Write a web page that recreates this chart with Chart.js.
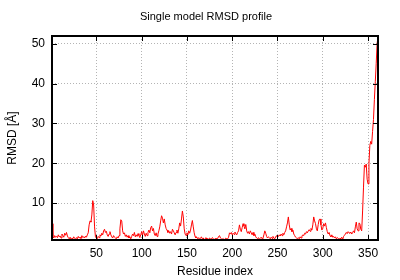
<!DOCTYPE html>
<html>
<head>
<meta charset="utf-8">
<script src="https://cdn.jsdelivr.net/npm/chart.js@4/dist/chart.umd.min.js"></script>
<style>
  html, body { margin: 0; padding: 0; background: #fff; }
  #wrap { width: 400px; height: 280px; }
</style>
</head>
<body>
<div id="wrap"><canvas id="myChart"></canvas></div>
<script>
// RMSD per residue (residues 1..361)
const rmsd = [
  4.8, 1.5, 1.2, 1.8, 1.4, 1.6, 1.3, 2.0, 1.5, 1.7,
  1.2, 2.2, 1.8, 1.4, 2.4, 1.9, 2.6, 1.7, 1.3, 1.0,
  1.4, 0.9, 1.2, 1.0, 1.5, 1.1, 0.9, 1.3, 1.0, 1.6,
  1.2, 1.4, 1.1, 1.8, 1.3, 1.5, 1.2, 1.7, 1.4, 2.0,
  2.5, 4.5, 5.5, 5.2, 7.0, 10.6, 9.5, 4.0, 1.5, 1.2,
  1.0, 1.6, 1.3, 2.0, 1.7, 2.4, 2.0, 3.0, 3.4, 2.6,
  2.9, 2.0, 1.6, 2.2, 2.8, 2.0, 1.5, 1.2, 1.8, 1.4,
  1.2, 1.0, 1.5, 1.2, 1.8, 3.5, 5.8, 5.5, 3.0, 2.2,
  2.5, 1.6, 2.0, 1.4, 1.8, 1.2, 1.5, 1.0, 1.6, 2.2,
  1.8, 2.6, 1.5, 2.0, 1.6, 2.3, 1.8, 1.3, 2.0, 2.8,
  1.9, 3.0, 2.2, 1.6, 2.4, 1.8, 2.6, 3.2, 2.5, 3.8,
  4.2, 3.0, 3.6, 2.2, 1.8, 2.5, 1.6, 2.2, 3.0, 4.0,
  5.5, 6.8, 6.2, 5.0, 6.0, 4.5, 3.6, 3.2, 2.6, 3.0,
  2.4, 2.8, 2.2, 3.4, 3.0, 2.5, 2.0, 2.6, 3.2, 2.4,
  3.5, 5.0, 4.2, 6.0, 8.0, 6.5, 3.5, 2.2, 1.8, 2.5,
  2.0, 3.0, 2.4, 3.2, 4.5, 5.6, 4.0, 2.5, 1.6, 1.2,
  1.4, 1.0, 1.3, 0.9, 1.1, 1.5, 1.0, 1.2, 0.8, 1.0,
  1.3, 0.9, 1.1, 0.8, 1.2, 1.0, 0.9, 1.3, 1.1, 0.8,
  1.0, 1.2, 0.9, 1.1, 1.6, 1.8, 1.2, 1.0, 0.9, 1.1,
  0.8, 1.0, 1.2, 0.9, 1.0, 1.4, 2.5, 2.2, 2.6, 2.0,
  2.4, 2.1, 2.7, 2.3, 2.0, 2.6, 3.0, 4.5, 3.4, 2.8,
  3.8, 4.8, 4.2, 3.5, 4.6, 3.0, 2.4, 2.8, 2.2, 3.0,
  2.5, 2.0, 2.6, 1.8, 2.2, 1.5, 1.2, 1.0, 1.3, 0.9,
  1.1, 1.4, 1.0, 1.2, 2.0, 3.0, 2.4, 1.6, 1.2, 1.5,
  1.3, 1.0, 1.4, 1.1, 1.6, 1.2, 1.0, 1.5, 1.8, 1.3,
  1.6, 2.0, 1.7, 2.2, 1.8, 2.4, 2.0, 2.6, 3.0, 4.0,
  5.0, 6.5, 4.5, 3.2, 3.6, 2.8, 3.2, 2.2, 1.8, 1.4,
  1.2, 1.0, 1.3, 1.0, 1.5, 1.2, 1.7, 2.0, 1.8, 2.4,
  2.2, 2.8, 2.5, 3.0, 3.3, 2.9, 3.6, 3.2, 4.5, 6.5,
  5.5, 4.8, 3.5, 3.0, 4.6, 5.8, 6.0, 4.5, 3.2, 3.6,
  4.8, 4.2, 5.0, 3.8, 2.8, 2.2, 2.6, 1.8, 1.5, 2.0,
  1.4, 1.6, 1.2, 1.5, 1.0, 1.3, 1.1, 0.9, 1.2, 1.0,
  1.4, 0.8, 1.6, 1.9, 2.2, 2.6, 2.3, 2.8, 2.5, 2.4,
  2.7, 2.2, 2.6, 3.0, 2.5, 4.0, 5.2, 3.5, 3.0, 5.0,
  4.8, 3.4, 3.0, 8.0, 14.0, 19.5, 19.0, 19.8, 16.0, 14.8,
  20.0, 24.5, 25.5, 24.8, 28.0, 31.0, 36.0, 40.5, 45.0, 50.0, 52.0
];
const residues = rmsd.map((v, i) => i + 1);
const xTicks = [50, 100, 150, 200, 250, 300, 350];
const yTicks = [10, 20, 30, 40, 50];

Chart.defaults.font.family = "'Liberation Sans', Arial, sans-serif";
Chart.defaults.font.size = 12;
Chart.defaults.color = '#000';

// gnuplot style frame with inward ticks on all four sides
const frame = {
  id: 'frame',
  afterDraw(chart) {
    const { ctx, chartArea: a, scales: { x, y } } = chart;
    ctx.save();
    ctx.strokeStyle = '#000';
    ctx.lineWidth = 1;
    ctx.beginPath();
    xTicks.forEach(v => {
      const px = Math.round(x.getPixelForValue(v)) + 0.5;
      ctx.moveTo(px, a.bottom); ctx.lineTo(px, a.bottom - 5);
      ctx.moveTo(px, a.top); ctx.lineTo(px, a.top + 5);
    });
    yTicks.forEach(v => {
      const py = Math.round(y.getPixelForValue(v)) + 0.5;
      ctx.moveTo(a.left, py); ctx.lineTo(a.left + 5, py);
      ctx.moveTo(a.right, py); ctx.lineTo(a.right - 5, py);
    });
    ctx.stroke();
    ctx.lineWidth = 2;
    ctx.strokeRect(a.left, a.top, a.right - a.left, a.bottom - a.top);
    ctx.restore();
  }
};

const ctx = document.getElementById('myChart').getContext('2d');
const myChart = new Chart(ctx, {
  type: 'line',
  data: {
    datasets: [{
      label: 'RMSD',
      data: residues.map((r, i) => ({ x: r, y: rmsd[i] })),
      borderColor: '#ff0000',
      borderWidth: 1,
      pointRadius: 0,
      tension: 0
    }]
  },
  options: {
    responsive: true,
    maintainAspectRatio: false,
    animation: false,
    layout: { padding: { left: 12 } },
    plugins: {
      legend: { display: false },
      tooltip: { enabled: false },
      title: {
        display: true,
        text: 'Single model RMSD profile',
        font: { size: 11, weight: 'normal' },
        padding: { top: 10, bottom: 12.8 }
      }
    },
    scales: {
      x: {
        type: 'linear',
        min: 1,
        max: 361,
        afterBuildTicks: s => { s.ticks = xTicks.map(v => ({ value: v })); },
        afterFit: s => { s.height = 40; },
        ticks: { padding: 6, maxRotation: 0 },
        grid: { color: '#b4b4b4', lineWidth: 1, drawTicks: false },
        border: { display: false, dash: [1, 2] },
        title: { display: true, text: 'Residue index', padding: { top: 0, bottom: 1 } }
      },
      y: {
        min: 0.7,
        max: 52,
        afterBuildTicks: s => { s.ticks = yTicks.map(v => ({ value: v })); },
        afterFit: s => { s.width = 40; },
        ticks: { padding: 7 },
        grid: { color: '#b4b4b4', lineWidth: 1, drawTicks: false },
        border: { display: false, dash: [1, 2] },
        title: { display: true, text: 'RMSD [Å]', padding: { top: -7, bottom: 0 } }
      },
      y2: {
        position: 'right',
        grid: { display: false, drawTicks: false },
        ticks: { display: false },
        border: { display: false },
        afterFit: s => { s.width = 22; }
      }
    }
  },
  plugins: [frame]
});
</script>
</body>
</html>
